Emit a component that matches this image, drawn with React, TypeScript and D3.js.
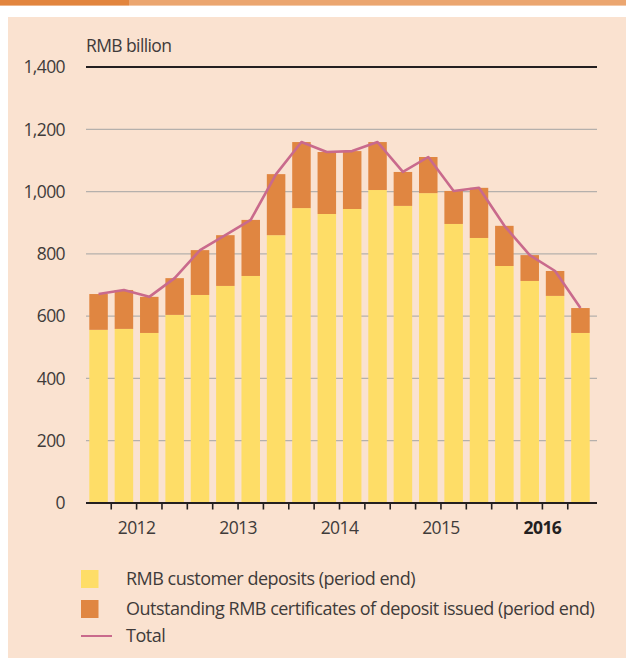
import React from "react";
import * as d3 from "d3";

const quarters = [
  "2012Q1", "2012Q2", "2012Q3", "2012Q4",
  "2013Q1", "2013Q2", "2013Q3", "2013Q4",
  "2014Q1", "2014Q2", "2014Q3", "2014Q4",
  "2015Q1", "2015Q2", "2015Q3", "2015Q4",
  "2016Q1", "2016Q2", "2016Q3", "2016Q4",
];
const deposits = [556, 559, 546, 604, 668, 697, 729, 860, 947, 928, 944, 1005, 954, 995, 896, 851, 761, 713, 665, 546];
const certificates = [115, 125, 116, 118, 144, 163, 180, 196, 212, 199, 186, 154, 109, 116, 106, 161, 129, 83, 80, 80];
const years = ["2012", "2013", "2014", "2015", "2016"];
const yTicks = [0, 200, 400, 600, 800, 1000, 1200, 1400];
const legendLabels = [
  "RMB customer deposits (period end)",
  "Outstanding RMB certificates of deposit issued (period end)",
  "Total",
];

const C = {
  bg: "#FAE2D0",
  yellow: "#FEDD67",
  orange: "#E08641",
  line: "#C96A8C",
  grid: "#B5B0AC",
  dark: "#231F20",
  text: "#3F3B3A",
  topDark: "#E2853E",
  topLight: "#EBA670",
};

export default function App() {
  const W = 626;
  const H = 658;
  const font = "'Open Sans', 'Noto Sans', sans-serif";
  const fs = 17.5;
  const ls = -0.6;

  const rows = quarters.map((q, i) => ({ q, deposits: deposits[i], certificates: certificates[i] }));
  const stack = d3.stack<any>().keys(["deposits", "certificates"])(rows);
  const totals = rows.map((r) => r.deposits + r.certificates);

  const x = d3.scaleBand<string>().domain(quarters).range([86, 593]).paddingInner(0.27).paddingOuter(0.13);
  const y = d3.scaleLinear().domain([0, 1400]).range([503, 67]);
  const bw = x.bandwidth();
  const step = x.step();

  const line = d3
    .line<number>()
    .x((_, i) => (x(quarters[i]) as number) + bw / 2)
    .y((d) => y(d));

  const colors = [C.yellow, C.orange];

  return (
    <svg width={W} height={H} style={{ position: "absolute", left: 0, top: 0 }} fontFamily={font}>
      <rect x={0} y={0} width={W} height={H} fill="#fff" />
      <rect x={0} y={0} width={129} height={5.6} fill={C.topDark} />
      <rect x={129} y={0} width={W - 129} height={5.6} fill={C.topLight} />
      <rect x={8} y={17} width={W - 8} height={H - 17} fill={C.bg} />

      {/* gridlines */}
      {yTicks.filter((t) => t > 0 && t < 1400).map((t) => (
        <line key={t} x1={86} x2={597} y1={y(t)} y2={y(t)} stroke={C.grid} strokeWidth={1.3} />
      ))}
      <line x1={86} x2={597} y1={y(1400)} y2={y(1400)} stroke={C.dark} strokeWidth={2} />

      {/* y labels */}
      {yTicks.map((t) => (
        <text key={t} x={65} y={y(t)} dy="0.36em" textAnchor="end" fontSize={fs} fill={C.text} letterSpacing={ls}>
          {d3.format(",")(t)}
        </text>
      ))}
      <text x={86} y={51.5} fontSize={fs} fill={C.text} letterSpacing={ls}>RMB billion</text>

      {/* bars */}
      {stack.map((s, k) => (
        <g key={k} fill={colors[k]}>
          {s.map((d, i) => (
            <rect key={i} x={x(quarters[i])} y={y(d[1])} width={bw} height={y(d[0]) - y(d[1])} />
          ))}
        </g>
      ))}

      {/* total line */}
      <path d={line(totals) || ""} fill="none" stroke={C.line} strokeWidth={2.6} strokeLinejoin="round" />

      {/* x axis */}
      <line x1={86} x2={597} y1={y(0)} y2={y(0)} stroke={C.dark} strokeWidth={2} />
      {quarters.slice(1).map((q) => {
        const xt = (x(q) as number) - (step - bw) / 2;
        return <line key={q} x1={xt} x2={xt} y1={y(0)} y2={y(0) + 6.5} stroke={C.dark} strokeWidth={1.6} />;
      })}
      {years.map((yr, k) => {
        const x0 = x(quarters[k * 4]) as number;
        const x1 = (x(quarters[k * 4 + 3]) as number) + bw;
        const bold = yr === "2016";
        return (
          <text
            key={yr}
            x={(x0 + x1) / 2}
            y={533.5}
            textAnchor="middle"
            fontSize={fs}
            fontWeight={bold ? 700 : 400}
            fill={bold ? C.dark : C.text}
            letterSpacing={ls}
          >
            {yr}
          </text>
        );
      })}

      {/* legend */}
      <rect x={81} y={570} width={17.5} height={18} fill={C.yellow} />
      <rect x={81} y={600} width={17.5} height={18} fill={C.orange} />
      <line x1={81} x2={112} y1={636} y2={636} stroke={C.line} strokeWidth={2} />
      {legendLabels.map((l, i) => (
        <text key={l} x={126} y={[585, 615, 642][i]} fontSize={18} fill={C.text} letterSpacing={-0.5}>
          {l}
        </text>
      ))}
    </svg>
  );
}
